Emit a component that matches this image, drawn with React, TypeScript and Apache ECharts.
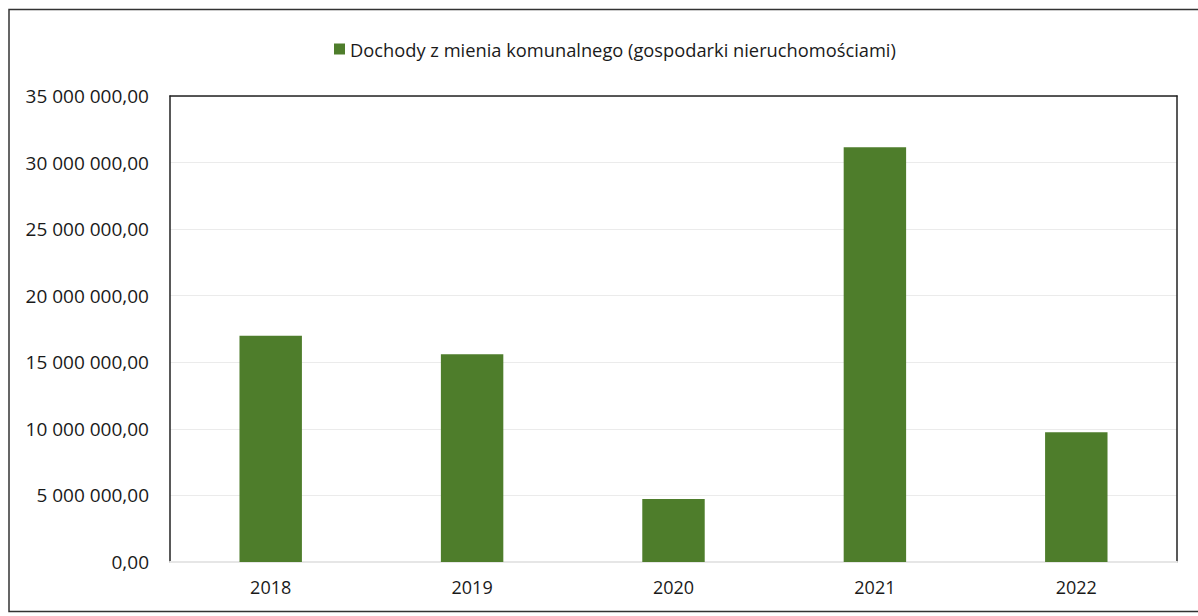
import React, { useEffect, useRef } from "react";
import * as echarts from "echarts";

const categories = ["2018", "2019", "2020", "2021", "2022"];
const seriesName = "Dochody z mienia komunalnego (gospodarki nieruchomościami)";
const values = [17000000, 15600000, 4730000, 31150000, 9740000];
const yMax = 35000000;
const yInterval = 5000000;

const fmt = (v: number) => {
  const [i, d] = v.toFixed(2).split(".");
  return i.replace(/\B(?=(\d{3})+(?!\d))/g, " ") + "," + d;
};

export default function App() {
  const ref = useRef<HTMLDivElement>(null);
  useEffect(() => {
    if (!ref.current) return;
    const chart = echarts.init(ref.current, null, { renderer: "svg" });
    const font = "'Open Sans', 'Noto Sans', sans-serif";
    const dark = { show: true, onZero: false, lineStyle: { color: "#222222", width: 1.5 } };
    chart.setOption({
      animation: false,
      backgroundColor: "#ffffff",
      textStyle: { fontFamily: font },
      legend: {
        top: 35,
        left: 329,
        itemWidth: 11,
        itemHeight: 11,
        itemGap: 4,
        icon: "rect",
        textStyle: { fontSize: 18.3, color: "#1a1a1a", fontFamily: font },
        data: [seriesName],
      },
      graphic: [
        {
          type: "rect",
          shape: { x: 9, y: 9.5, width: 1200, height: 602 },
          style: { fill: "none", stroke: "#333333", lineWidth: 1.5 },
          silent: true,
        },
      ],
      grid: {
        left: 170,
        top: 96,
        right: 21,
        bottom: 54,
      },
      xAxis: [
        {
          type: "category",
          data: categories,
          axisLine: { show: true, onZero: false, lineStyle: { color: "#e6e6e6", width: 2 } },
          axisTick: { show: false },
          axisLabel: { fontSize: 18, color: "#1a1a1a", margin: 16 },
        },
        {
          type: "category",
          position: "top",
          data: categories,
          axisLine: dark,
          axisTick: { show: false },
          axisLabel: { show: false },
        },
      ],
      yAxis: [
        {
          type: "value",
          min: 0,
          max: yMax,
          interval: yInterval,
          axisLine: dark,
          axisTick: { show: false },
          splitLine: { lineStyle: { color: "#ebebeb", width: 1 } },
          axisLabel: {
            fontSize: 19,
            color: "#1a1a1a",
            margin: 21,
            formatter: (v: number) => fmt(v),
          },
        },
        {
          type: "value",
          position: "right",
          min: 0,
          max: yMax,
          interval: yInterval,
          axisLine: dark,
          axisTick: { show: false },
          splitLine: { show: false },
          axisLabel: { show: false },
        },
      ],
      series: [
        {
          name: seriesName,
          type: "bar",
          data: values,
          barWidth: "31%",
          itemStyle: { color: "#4e7d2b" },
        },
      ],
    });
    return () => chart.dispose();
  }, []);
  return (
    <div
      ref={ref}
      style={{ position: "absolute", left: 0, top: 0, width: 1198, height: 616 }}
    />
  );
}
